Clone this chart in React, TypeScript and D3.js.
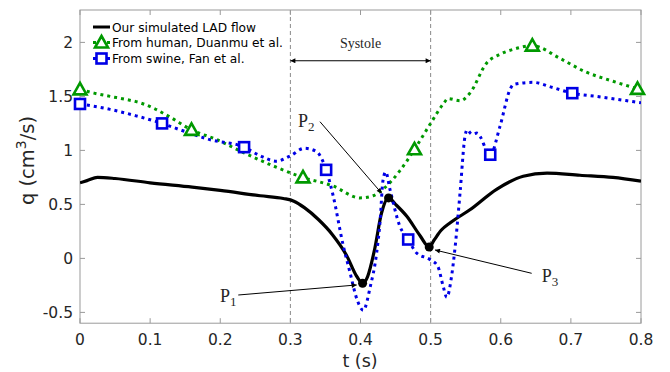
import React from "react";
import * as d3 from "d3";

// ---- Data ----
const tSim = [0, 0.01, 0.025, 0.05, 0.1, 0.16, 0.2, 0.257, 0.29, 0.305, 0.32, 0.34, 0.36, 0.38, 0.395, 0.403, 0.41, 0.42, 0.43, 0.44, 0.45, 0.466, 0.485, 0.498, 0.505, 0.515, 0.528, 0.556, 0.594, 0.632, 0.666, 0.713, 0.76, 0.8];
const qSim = [0.70, 0.72, 0.75, 0.74, 0.70, 0.66, 0.63, 0.58, 0.555, 0.53, 0.47, 0.36, 0.22, 0.03, -0.17, -0.23, -0.17, 0.08, 0.42, 0.56, 0.50, 0.39, 0.21, 0.105, 0.17, 0.26, 0.33, 0.45, 0.64, 0.76, 0.79, 0.77, 0.75, 0.716];

const tHuman = [0, 0.02, 0.043, 0.067, 0.086, 0.105, 0.128, 0.159, 0.195, 0.233, 0.276, 0.318, 0.361, 0.399, 0.418, 0.432, 0.456, 0.477, 0.5, 0.518, 0.525, 0.542, 0.556, 0.58, 0.599, 0.62, 0.645, 0.685, 0.72, 0.76, 0.795];
const qHuman = [1.565, 1.53, 1.50, 1.47, 1.44, 1.39, 1.31, 1.19, 1.10, 0.98, 0.855, 0.75, 0.67, 0.56, 0.58, 0.64, 0.81, 1.01, 1.25, 1.43, 1.48, 1.46, 1.53, 1.81, 1.89, 1.94, 1.97, 1.85, 1.73, 1.64, 1.57];
const tHumanMarkers = [0, 0.159, 0.318, 0.477, 0.645, 0.795];

const tSwine = [0, 0.043, 0.08, 0.117, 0.143, 0.185, 0.234, 0.257, 0.28, 0.3, 0.32, 0.337, 0.351, 0.361, 0.375, 0.385, 0.395, 0.404, 0.414, 0.423, 0.428, 0.432, 0.436, 0.442, 0.456, 0.468, 0.48, 0.499, 0.51, 0.518, 0.523, 0.53, 0.535, 0.542, 0.549, 0.552, 0.559, 0.566, 0.585, 0.599, 0.613, 0.618, 0.646, 0.675, 0.702, 0.737, 0.8];
const qSwine = [1.43, 1.38, 1.32, 1.25, 1.19, 1.10, 1.03, 0.95, 0.90, 0.95, 1.02, 0.99, 0.82, 0.58, 0.13, -0.13, -0.38, -0.48, -0.26, 0.05, 0.35, 0.72, 0.80, 0.64, 0.30, 0.175, 0.05, -0.01, -0.07, -0.26, -0.36, -0.16, 0.11, 0.61, 1.13, 1.19, 1.15, 1.16, 0.96, 1.225, 1.56, 1.61, 1.63, 1.58, 1.53, 1.50, 1.44];
const tSwineMarkers = [0, 0.117, 0.234, 0.351, 0.468, 0.585, 0.702];

const xTicks = [0, 0.1, 0.2, 0.3, 0.4, 0.5, 0.6, 0.7, 0.8];
const yTicks = [-0.5, 0, 0.5, 1, 1.5, 2];
const legendLabels = ["Our simulated LAD flow", "From human, Duanmu et al.", "From swine, Fan et al."];

const systole = [0.3, 0.5];
// key points P1, P2, P3 on the simulated flow
const pointLabels = ["1", "2", "3"];
const pointT = [0.403, 0.44, 0.498];
const pointQ = [-0.23, 0.56, 0.105];
const labelT = [0.1996, 0.3109, 0.6584];
const labelQ = [-0.404, 1.217, -0.216];
const arrowFromT = [0.2257, 0.3422, 0.6441];
const arrowFromQ = [-0.339, 1.266, -0.138];
const arrowToT = [0.3946, 0.4302, 0.5062];
const arrowToQ = [-0.246, 0.603, 0.078];

const W = 670, H = 372;
const x = d3.scaleLinear().domain([0, 0.8]).range([80, 641]);
const y = d3.scaleLinear().domain([-0.6, 2.3]).range([323.2, 10]);

const GREEN = "#009900";
const BLUE = "#0000e6";
const AXIS = "#9a9a9a";
const TXT = "#262626";

function interp(ts: number[], qs: number[], t: number) {
  // value of series at a marker time (markers sit on the curve)
  for (let i = 0; i < ts.length - 1; i++) {
    if (t >= ts[i] && t <= ts[i + 1]) {
      const f = (t - ts[i]) / (ts[i + 1] - ts[i] || 1);
      return qs[i] + f * (qs[i + 1] - qs[i]);
    }
  }
  return qs[qs.length - 1];
}

function Tri({ cx, cy }: { cx: number; cy: number }) {
  return (
    <path
      d={`M${cx},${cy - 6.5}L${cx + 6.5},${cy + 5}L${cx - 6.5},${cy + 5}Z`}
      fill="white"
      stroke={GREEN}
      strokeWidth={2.6}
      strokeLinejoin="miter"
    />
  );
}
function Sq({ cx, cy }: { cx: number; cy: number }) {
  return <rect x={cx - 5} y={cy - 5} width={10} height={10} fill="white" stroke={BLUE} strokeWidth={2.6} />;
}

export default function App() {
  const line = d3
    .line<[number, number]>()
    .x((d) => x(d[0]))
    .y((d) => y(d[1]))
    .curve(d3.curveMonotoneX);

  const simPath = line(tSim.map((t, i) => [t, qSim[i]]))!;
  const humanPath = line(tHuman.map((t, i) => [t, qHuman[i]]))!;
  const swinePath = line(tSwine.map((t, i) => [t, qSwine[i]]))!;

  const font = "'DejaVu Sans', sans-serif";
  const serif = "'Liberation Serif', 'Times New Roman', serif";
  const [x0, x1] = x.range();
  const [yb, yt] = y.range();

  return (
    <svg width={W} height={H} style={{ position: "absolute", left: 0, top: 0, background: "white" }}>
      <defs>
        <marker id="ah" viewBox="0 0 10 10" refX="10" refY="5" markerWidth="7" markerHeight="5" orient="auto-start-reverse" markerUnits="userSpaceOnUse">
          <path d="M0,0L10,5L0,10Z" fill="black" />
        </marker>
        <clipPath id="plot">
          <rect x={x0} y={yt} width={x1 - x0} height={yb - yt} />
        </clipPath>
      </defs>
      <rect x={0} y={0} width={W} height={H} fill="white" />

      {/* systole dashed lines */}
      {systole.map((s, i) => (
        <line key={i} x1={x(s)} x2={x(s)} y1={yt} y2={yb} stroke="#8a8a8a" strokeWidth={1} strokeDasharray="4 3" />
      ))}

      {/* axes box */}
      <rect x={x0} y={yt} width={x1 - x0} height={yb - yt} fill="none" stroke={AXIS} strokeWidth={1} />
      {xTicks.map((t, i) => (
        <g key={i}>
          <line x1={x(t)} x2={x(t)} y1={yb} y2={yb - 5} stroke={AXIS} />
          <line x1={x(t)} x2={x(t)} y1={yt} y2={yt + 5} stroke={AXIS} />
          <text x={x(t)} y={345} textAnchor="middle" fontFamily={font} fontSize={15.5} fill={TXT}>
            {String(t)}
          </text>
        </g>
      ))}
      {yTicks.map((q, i) => (
        <g key={i}>
          <line x1={x0} x2={x0 + 5} y1={y(q)} y2={y(q)} stroke={AXIS} />
          <line x1={x1} x2={x1 - 5} y1={y(q)} y2={y(q)} stroke={AXIS} />
          <text x={73} y={y(q) + 5.5} textAnchor="end" fontFamily={font} fontSize={15.5} fill={TXT}>
            {String(q)}
          </text>
        </g>
      ))}

      {/* axis labels */}
      <text x={360} y={367} textAnchor="middle" fontFamily={font} fontSize={17.5} fill={TXT}>
        t (s)
      </text>
      <text transform="translate(34,160.5) rotate(-90)" textAnchor="middle" fontFamily={font} fontSize={19.5} fill={TXT}>
        q (cm<tspan dy={-8} fontSize={14}>3</tspan>
        <tspan dy={8}>/s)</tspan>
      </text>

      {/* curves */}
      <g clipPath="url(#plot)">
        <path d={simPath} fill="none" stroke="black" strokeWidth={3.2} strokeLinejoin="round" />
        <path d={humanPath} fill="none" stroke={GREEN} strokeWidth={3} strokeDasharray="3 4" />
        <path d={swinePath} fill="none" stroke={BLUE} strokeWidth={3} strokeDasharray="3 4" />
      </g>
      {tHumanMarkers.map((t, i) => (
        <Tri key={i} cx={x(t)} cy={y(interp(tHuman, qHuman, t))} />
      ))}
      {tSwineMarkers.map((t, i) => (
        <Sq key={i} cx={x(t)} cy={y(interp(tSwine, qSwine, t))} />
      ))}

      {/* key points */}
      {pointT.map((t, i) => (
        <g key={i}>
          <circle cx={x(t)} cy={y(pointQ[i])} r={4.5} fill="black" />
          <line x1={x(arrowFromT[i])} y1={y(arrowFromQ[i])} x2={x(arrowToT[i])} y2={y(arrowToQ[i])} stroke="black" strokeWidth={1} markerEnd="url(#ah)" />
          <text x={x(labelT[i])} y={y(labelQ[i])} fontFamily={serif} fontSize={18} fill={TXT}>
            P<tspan dy={4} fontSize={13}>{pointLabels[i]}</tspan>
          </text>
        </g>
      ))}

      {/* systole arrow */}
      <line x1={x(systole[0])} x2={x(systole[1])} y1={y(1.83)} y2={y(1.83)} stroke="black" strokeWidth={1.2} markerStart="url(#ah)" markerEnd="url(#ah)" />
      <text x={x(0.4)} y={y(1.948)} textAnchor="middle" fontFamily={serif} fontSize={14} fill={TXT}>
        Systole
      </text>

      {/* legend */}
      <g>
        <line x1={93} x2={110} y1={27} y2={27} stroke="black" strokeWidth={3} />
        <line x1={93} x2={110} y1={42.5} y2={42.5} stroke={GREEN} strokeWidth={3} strokeDasharray="3 4" />
        <Tri cx={101.5} cy={42.5} />
        <line x1={93} x2={110} y1={58.5} y2={58.5} stroke={BLUE} strokeWidth={3} strokeDasharray="3 4" />
        <Sq cx={101.5} cy={58.5} />
        {legendLabels.map((l, i) => (
          <text key={i} x={112} y={31.5 + i * 15.8} fontFamily={font} fontSize={12.2} fill="black">
            {l}
          </text>
        ))}
      </g>
    </svg>
  );
}
